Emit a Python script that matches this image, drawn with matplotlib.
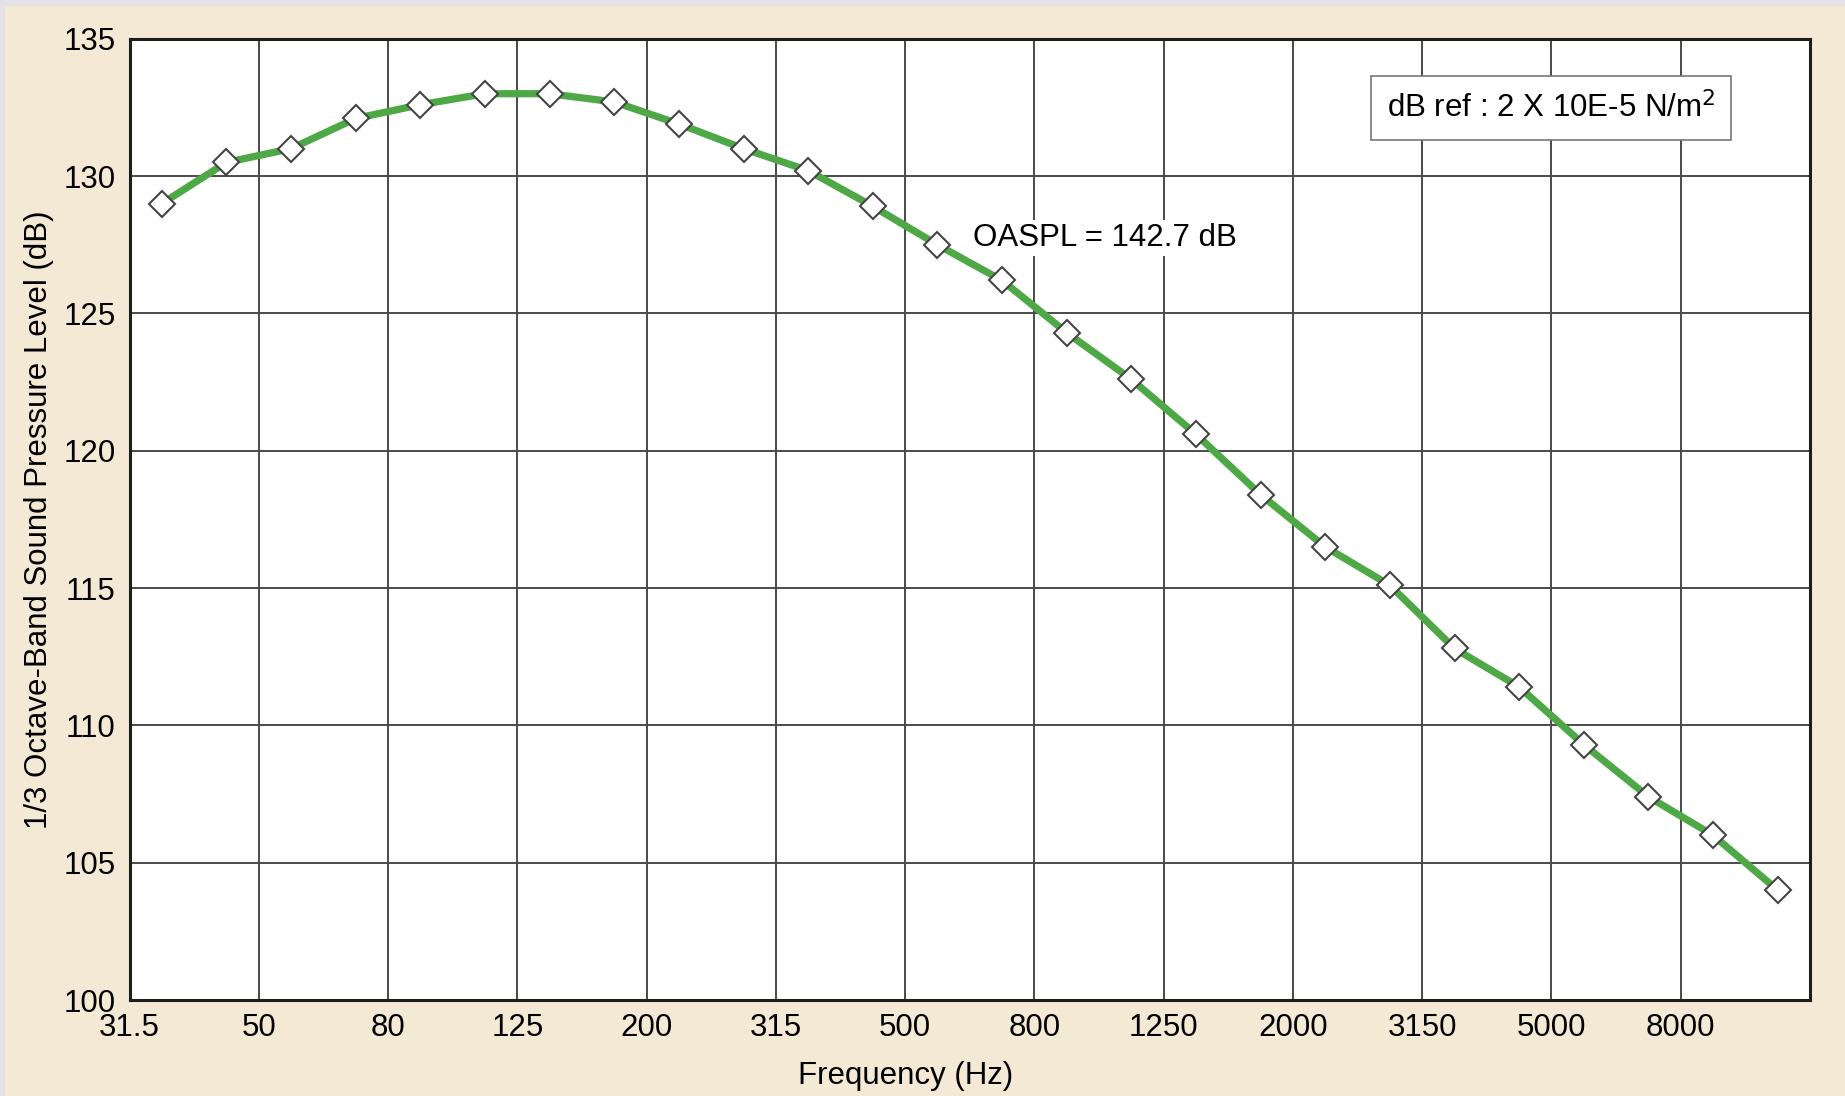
import numpy as np
import matplotlib
matplotlib.use("Agg")
import matplotlib.pyplot as plt
from matplotlib.patches import Rectangle

# 1/3-octave band centre frequencies (Hz)
bands = ["31.5", "40", "50", "63", "80", "100", "125", "160", "200", "250",
         "315", "400", "500", "630", "800", "1000", "1250", "1600", "2000",
         "2500", "3150", "4000", "5000", "6300", "8000", "10000"]

# Band sound pressure level (dB)
spl = [129.0, 130.5, 131.0, 132.1, 132.6, 133.0, 133.0, 132.7, 131.9, 131.0,
       130.2, 128.9, 127.5, 126.2, 124.3, 122.6, 120.6, 118.4, 116.5, 115.1,
       112.8, 111.4, 109.3, 107.4, 106.0, 104.0]

tick_labels = bands[::2]
y_ticks = [100, 105, 110, 115, 120, 125, 130, 135]

plt.rcParams["font.family"] = ["Liberation Sans", "DejaVu Sans"]
FS = 22.5

fig = plt.figure(figsize=(18.45, 10.96), dpi=100)
fig.patch.set_facecolor("#E4E2E7")
fig.patches.append(Rectangle((5 / 1845, 0), 1, 1 - 6 / 1096,
                             transform=fig.transFigure,
                             facecolor="#F4E9D4", edgecolor="none",
                             zorder=-10))

ax = fig.add_axes([129.5 / 1845, 1 - 1000 / 1096,
                   (1810 - 129.5) / 1845, (1000 - 38.8) / 1096])
ax.set_zorder(1)
ax.set_facecolor("white")

x = np.arange(len(bands)) + 0.5
ax.plot(x, spl, color="#4DA845", linewidth=5.2, zorder=3,
        solid_capstyle="round", solid_joinstyle="round")
ax.plot(x, spl, linestyle="none", marker="D", markersize=13.5,
        markerfacecolor="white", markeredgecolor="#444444",
        markeredgewidth=1.5, zorder=4)

ax.set_xlim(0, len(bands))
ax.set_ylim(100, 135)
ax.set_xticks(np.arange(0, len(bands), 2))
ax.set_xticklabels(tick_labels)
ax.set_yticks(y_ticks)

ax.grid(True, color="#4a4a4a", linewidth=1.4)
ax.set_axisbelow(True)
ax.tick_params(axis="both", length=0, labelsize=FS, colors="black")
ax.tick_params(axis="x", pad=9)
ax.tick_params(axis="y", pad=10)
for s in ax.spines.values():
    s.set_color("#1e1e1e")
    s.set_linewidth(2.2)

ax.set_xlabel("Frequency (Hz)", fontsize=FS, labelpad=10)
ax.xaxis.set_label_coords(0.462, -0.063)
ax.set_ylabel("1/3 Octave-Band Sound Pressure Level (dB)", fontsize=FS,
              labelpad=7)

ax.text(13.05, 127.75, "OASPL = 142.7 dB", fontsize=FS, va="center",
        ha="left", zorder=5,
        bbox=dict(facecolor="white", edgecolor="none", pad=2))

ax.text(0.846, 0.928, r"dB ref : 2 X 10E-5 N/m$^2$", transform=ax.transAxes,
        fontsize=FS, ha="center", va="center", zorder=5,
        bbox=dict(boxstyle="square,pad=0.5", facecolor="white",
                  edgecolor="#777777", linewidth=1.2))

fig.savefig("out.png", dpi=100, facecolor=fig.get_facecolor())
